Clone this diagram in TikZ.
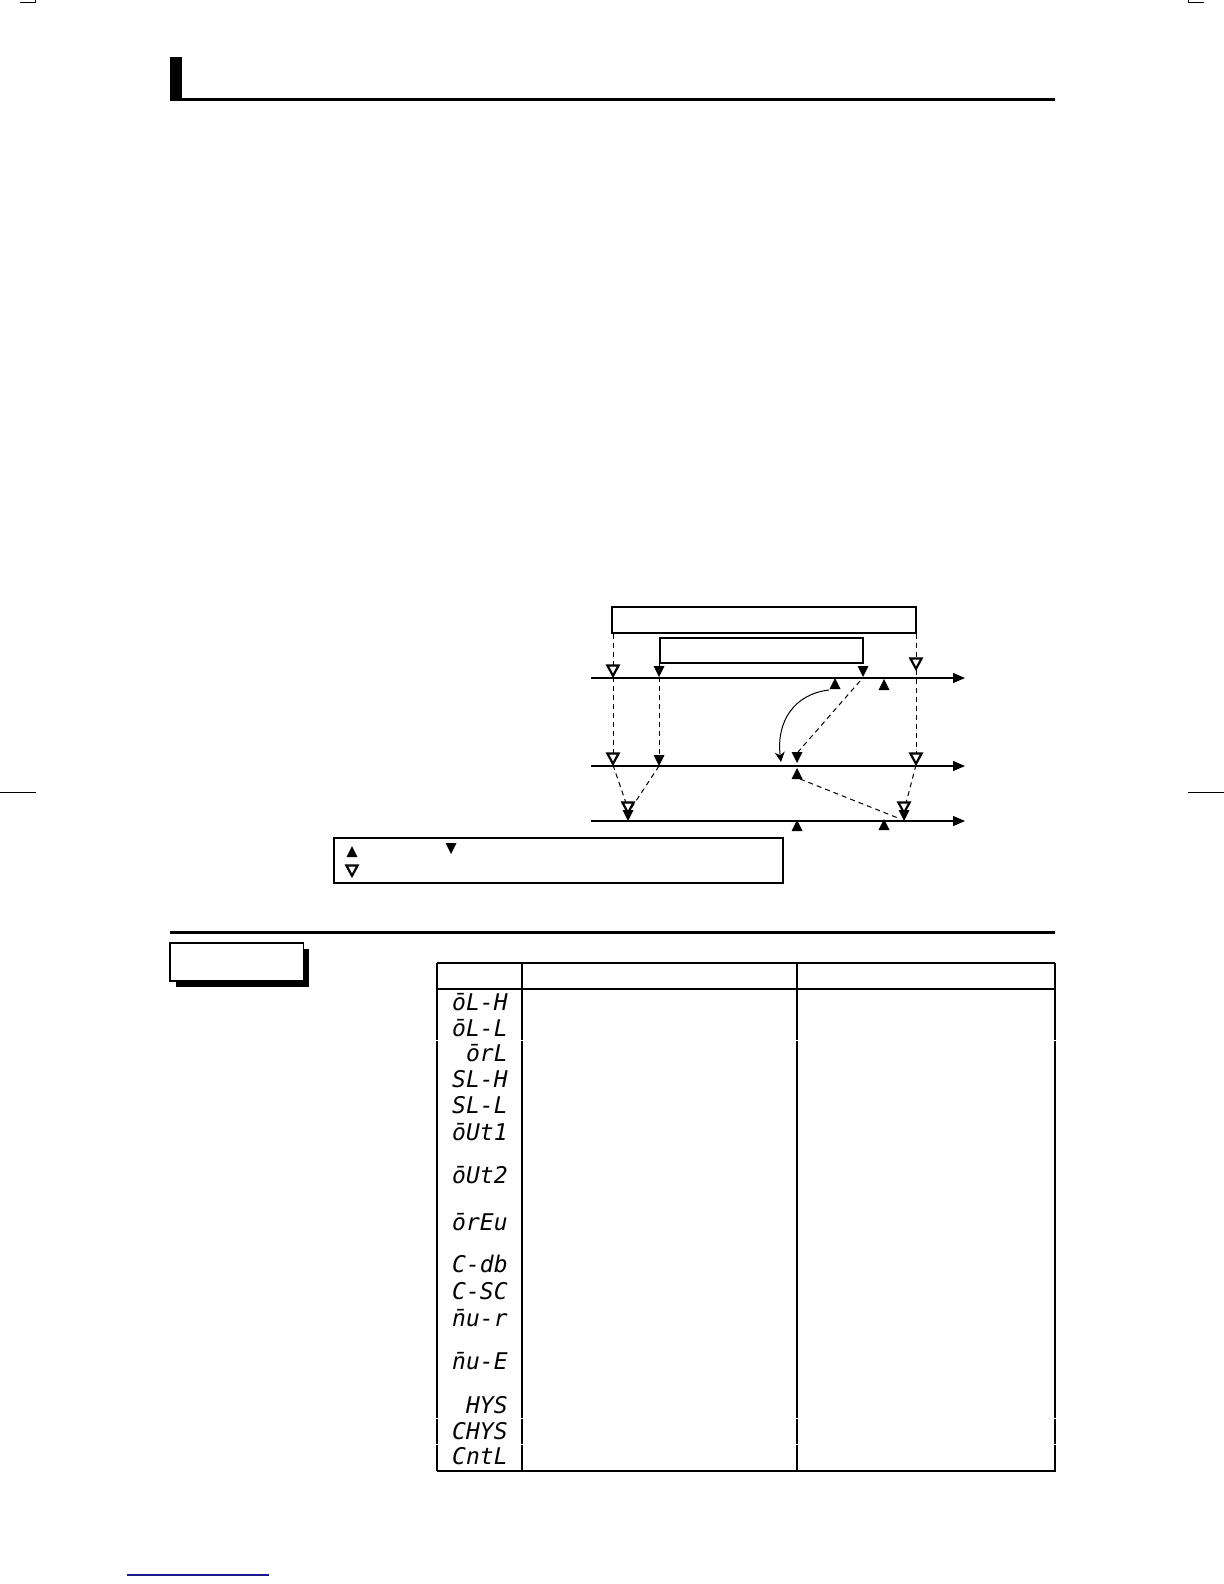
\documentclass[tikz,border=0pt]{standalone}
\usepackage{fontspec}
\newfontfamily\segfont{DejaVu Sans Mono}
\usetikzlibrary{arrows.meta}
\newcommand\mynbar{\ooalign{n\cr ¯\cr}}
\begin{document}
\begin{tikzpicture}[x=0.5pt,y=-0.5pt,
  axisline/.style={line width=0.55pt,-{Triangle[length=6pt,width=5pt]}},
  dsh/.style={dash pattern=on 2.5pt off 2pt,line width=0.5pt},
  thinbox/.style={draw,line width=0.7pt},
  thickbox/.style={draw,line width=0.9pt},
  tline/.style={line width=0.9pt},
  cline/.style={line width=0.55pt},
  lbl/.style={anchor=base east,inner sep=0pt,font=\segfont\itshape\fontsize{11.5}{12}\selectfont},
  fdown/.pic={\fill (0,0) -- (-5.5,-11) -- (5.5,-11) -- cycle;},
  odown/.pic={\draw[line width=1.1pt,fill=white,line join=miter] (0,-1.2) -- (-5.6,-11.5) -- (5.6,-11.5) -- cycle;},
  fup/.pic={\fill (0,0) -- (-5.5,11) -- (5.5,11) -- cycle;}
]
\useasboundingbox (0,0) rectangle (1224,1584);

% crop / side marks
\draw[line width=0.5pt] (20,2.5) -- (35,2.5) -- (35,0);
\draw[line width=0.5pt] (1188,0) -- (1188,2.5) -- (1204,2.5);
\draw[line width=0.5pt] (0,792) -- (36,792);
\draw[line width=0.5pt] (1188,792) -- (1224,792);

% header
\fill (170,57) rectangle (182,101);
\draw[line width=1.5pt] (170,100) -- (1055,100);

% ---------------- diagram ----------------
\node[thinbox,minimum width=152pt,minimum height=13pt,inner sep=0pt] (big) at (764,620) {};
\node[thickbox,minimum width=101.5pt,minimum height=12.2pt,inner sep=0pt] (inner) at (761.5,650.5) {};

\coordinate (a1s) at (591,678); \coordinate (a1e) at (965,678);
\coordinate (a2s) at (591,766); \coordinate (a2e) at (965,766);
\coordinate (a3s) at (591,821); \coordinate (a3e) at (965,821);
\draw[axisline] (a1s) -- (a1e);
\draw[axisline] (a2s) -- (a2e);
\draw[axisline] (a3s) -- (a3e);

% triangle positions (tips)
\coordinate (o1l) at (613,677);
\coordinate (o1r) at (916,670);
\coordinate (f1l) at (659,677);
\coordinate (f1r) at (863,677);
\coordinate (u1a) at (835,678);
\coordinate (u1b) at (884,679);
\coordinate (o2l) at (613,765);
\coordinate (o2r) at (916,765);
\coordinate (f2l) at (659,766);
\coordinate (f2m) at (797,763);
\coordinate (u2m) at (797,768);
\coordinate (o3l) at (628,814);
\coordinate (f3l) at (628,821);
\coordinate (o3r) at (904,814);
\coordinate (f3r) at (904,821);
\coordinate (u3a) at (797,820);
\coordinate (u3b) at (884,819);

% dashed links
\draw[dsh] (big.south west -| o1l) -- (613,666);
\draw[dsh] (o1l) -- (613,753);
\draw[dsh] (big.south east -| o1r) -- (916,659);
\draw[dsh] (o1r) -- (916,753);
\draw[dsh] (inner.south west -| f1l) -- (659,666);
\draw[dsh] (f1l) -- (659,755);
\draw[dsh] (o2l) -- (626,803);
\draw[dsh] (f2l) -- (630,810);
\draw[dsh] (o2r) -- (906,803);
\draw[dsh] (860,681) -- (798,752);
\draw[dsh] (800,779) -- (898,818);

% solid curved arrow
\draw[line width=0.5pt,-{Stealth[length=5pt,width=5pt]}] (829,690) .. controls (794,694) and (776,722) .. (781,762);

% triangles
\pic at (o1l) {odown}; \pic at (o1r) {odown};
\pic at (f1l) {fdown}; \pic at (f1r) {fdown};
\pic at (u1a) {fup}; \pic at (u1b) {fup};
\pic at (o2l) {odown}; \pic at (o2r) {odown};
\pic at (f2l) {fdown}; \pic at (f2m) {fdown};
\pic at (u2m) {fup};
\pic at (f3l) {fdown}; \pic at (o3l) {odown};
\pic at (f3r) {fdown}; \pic at (o3r) {odown};
\pic at (u3a) {fup}; \pic at (u3b) {fup};

% legend box
\node[thinbox,minimum width=224.5pt,minimum height=22.5pt,inner sep=0pt] (legend) at (558.5,860.5) {};
\coordinate (lg1) at (352,846); \coordinate (lg2) at (352,877); \coordinate (lg3) at (451,854);
\pic at (lg1) {fup};
\pic at (lg2) {odown};
\pic at (lg3) {fdown};

% separator
\draw[line width=1.2pt] (170,932.5) -- (1055,932.5);

% shadow box
\fill (176,949) rectangle (309,986.5);
\node[draw,fill=white,line width=0.6pt,minimum width=66.75pt,minimum height=19pt,inner sep=0pt] (tag) at (236.75,962) {};

% ---------------- table ----------------
\draw[tline] (437,963) -- (1055,963);
\draw[tline] (437,989) -- (1055,989);
\draw[line width=0.8pt] (437,1471) -- (1055,1471);
\draw[cline] (437,963) -- (437,1471);
\draw[cline] (522,963) -- (522,1471);
\draw[cline] (797,963) -- (797,1471);
\draw[tline] (1055,962.5) -- (1055,1471.5);
\foreach \yy in {1040,1418,1444}{
  \draw[white,line width=0.5pt] (430,\yy) -- (1062,\yy);
}

% parameter labels
\foreach \yy/\tx in {1002/{ōL-H},1028/{ōL-L},1053/{ōrL},1079/{SL-H},1105/{SL-L},
  1132/{ōUt1},1175/{ōUt2},1222/{ōrEu},1264/{C-db},1291/{C-SC},1318/{\mynbar u-r},
  1361/{\mynbar u-E},1405/{HYS},1431/{CHYS},1456/{CntL}}{
  \node[lbl] at (508,\yy+8) {\tx};
}

% footer link line
\draw[color={rgb,255:red,26;green,26;blue,140},line width=0.7pt] (127,1575) -- (269,1575);
\end{tikzpicture}
\end{document}
